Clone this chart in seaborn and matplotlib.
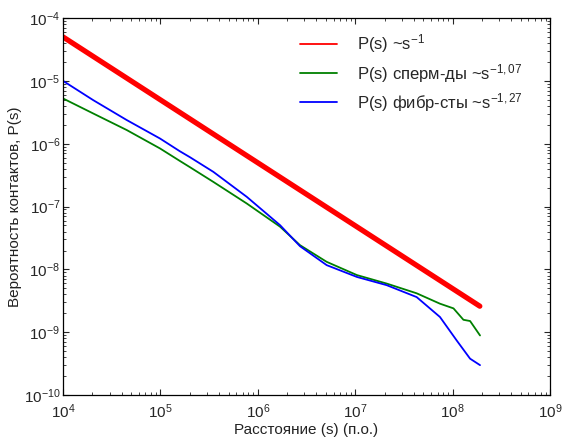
import matplotlib
matplotlib.use("Agg")
import matplotlib.pyplot as plt
from matplotlib.lines import Line2D
from matplotlib.ticker import NullFormatter
import seaborn as sns
import pandas as pd

# Data
red_s = [1.0e4, 1.9e8]
red_p = [5.0e-5, 2.6e-9]

blue_s = [1.0e4, 2.04e4, 4.51e4, 9.9e4, 1.58e5, 2.01e5, 3.49e5, 7.69e5, 1.69e6, 2.71e6,
          5.09e6, 1.04e7, 2.10e7, 4.27e7, 7.41e7, 1.10e8, 1.51e8, 1.91e8]
blue_p = [1.0e-5, 4.94e-6, 2.38e-6, 1.21e-6, 7.6e-7, 6.1e-7, 3.57e-7, 1.43e-7, 5.06e-8, 2.34e-8,
          1.17e-8, 7.59e-9, 5.62e-9, 3.63e-9, 1.75e-9, 7.41e-10, 3.8e-10, 3.0e-10]

green_s = [1.0e4, 2.04e4, 4.51e4, 9.9e4, 1.58e5, 2.01e5, 3.49e5, 7.69e5, 1.69e6, 2.71e6,
           5.09e6, 1.04e7, 2.10e7, 4.27e7, 7.41e7, 1.02e8, 1.29e8, 1.51e8, 1.91e8]
green_p = [5.25e-6, 3.03e-6, 1.65e-6, 8.41e-7, 5.33e-7, 4.23e-7, 2.47e-7, 1.12e-7, 4.79e-8, 2.43e-8,
           1.32e-8, 8.13e-9, 5.96e-9, 4.17e-9, 2.85e-9, 2.4e-9, 1.58e-9, 1.51e-9, 8.9e-10]

x_ticks = [1e4, 1e5, 1e6, 1e7, 1e8, 1e9]
y_ticks = [1e-10, 1e-9, 1e-8, 1e-7, 1e-6, 1e-5, 1e-4]

labels = [r"P(s) ~s$^{-1}$", r"P(s) сперм-ды ~s$^{-1,07}$", r"P(s) фибр-сты ~s$^{-1,27}$"]
colors = ["#ff0000", "#008000", "#0000ff"]
x_label = "Расстояние (s) (п.о.)"
y_label = "Вероятность контактов, P(s)"

sns.set_theme(style="ticks")
plt.rcParams["font.family"] = ["Liberation Sans", "DejaVu Sans"]
plt.rcParams["mathtext.fontset"] = "custom"
plt.rcParams["mathtext.rm"] = "Liberation Sans"
plt.rcParams["mathtext.it"] = "Liberation Sans:italic"
plt.rcParams["mathtext.bf"] = "Liberation Sans:bold"

fig = plt.figure(figsize=(5.63, 4.40), dpi=100)
ax = fig.add_axes([0.112, 0.102, 0.865, 0.857])

df_red = pd.DataFrame({"s": red_s, "p": red_p})
df_green = pd.DataFrame({"s": green_s, "p": green_p})
df_blue = pd.DataFrame({"s": blue_s, "p": blue_p})

sns.lineplot(data=df_red, x="s", y="p", ax=ax, color=colors[0], linewidth=3.8, sort=False)
sns.lineplot(data=df_green, x="s", y="p", ax=ax, color=colors[1], linewidth=1.3, sort=False)
sns.lineplot(data=df_blue, x="s", y="p", ax=ax, color=colors[2], linewidth=1.3, sort=False)

ax.set_xscale("log")
ax.set_yscale("log")
ax.set_xticks(x_ticks)
ax.set_yticks(y_ticks)
ax.set_xlim(1e4, 1e9)
ax.set_ylim(1e-10, 1e-4)
ax.xaxis.set_minor_formatter(NullFormatter())
ax.yaxis.set_minor_formatter(NullFormatter())
ax.set_xlabel(x_label, fontsize=11, color="#222222", labelpad=2)
ax.set_ylabel(y_label, fontsize=11, color="#222222", labelpad=1)

ax.tick_params(which="both", direction="in", top=True, right=True, labelsize=11)
ax.tick_params(which="major", length=4, width=0.8)
ax.tick_params(which="minor", length=2, width=0.6)
ax.tick_params(axis="x", pad=5)
ax.tick_params(axis="y", pad=2)
for sp in ax.spines.values():
    sp.set_color("black")
    sp.set_linewidth(0.9)

handles = [Line2D([], [], color=c, linewidth=1.3) for c in colors]
ax.legend(handles, labels, loc="upper left", bbox_to_anchor=(0.487, 0.962), frameon=False,
          fontsize=12, handlelength=2.2, handletextpad=1.2, labelspacing=0.38,
          borderpad=0, borderaxespad=0)

fig.savefig("out.png", dpi=100)
